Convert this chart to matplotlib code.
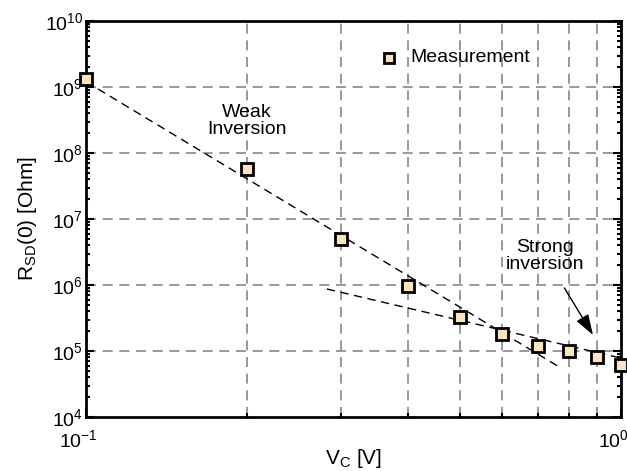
import matplotlib

matplotlib.use("Agg")

import matplotlib.pyplot as plt
from matplotlib.ticker import LogLocator, FixedLocator, NullFormatter
from matplotlib.transforms import ScaledTranslation

plt.rcParams["font.family"] = ["Liberation Sans", "DejaVu Sans"]
plt.rcParams["mathtext.fontset"] = "custom"
plt.rcParams["mathtext.rm"] = "Liberation Sans"
plt.rcParams["mathtext.it"] = "Liberation Sans:italic"

# measured points
vc = [0.1, 0.2, 0.3, 0.4, 0.5, 0.6, 0.7, 0.8, 0.9, 1.0]
rsd = [1.34e9, 5.7e7, 4.9e6, 9.7e5, 3.3e5, 1.8e5, 1.2e5, 1.0e5, 8.2e4, 6.1e4]

# fitted guide lines
weak_x = [0.1, 0.773]
weak_y = [1.2e9, 5.5e4]
strong_x = [0.282, 1.0]
strong_y = [8.7e5, 7.8e4]


def px2x(px):
    return 10 ** ((px - 86) / 535 - 1)


def px2y(py):
    return 10 ** (10 - (py - 21) / 66)


fig = plt.figure(figsize=(6.27, 4.71), dpi=100)
ax = fig.add_axes([86 / 627, 1 - 417 / 471, 535 / 627, 396 / 471])

ax.set_xscale("log")
ax.set_yscale("log")
ax.set_xlim(0.1, 1.0)
ax.set_ylim(1e4, 1e10)

grid_kw = dict(color="#888888", linestyle=(0, (6, 4)), linewidth=1.2, zorder=0)
for x in [0.2, 0.3, 0.4, 0.5, 0.6, 0.7, 0.8, 0.9]:
    ax.axvline(x, **grid_kw)
for y in [1e5, 1e6, 1e7, 1e8, 1e9]:
    ax.axhline(y, **grid_kw)

ax.plot(weak_x, weak_y, color="black", linestyle=(0, (6, 4)), linewidth=1.0, zorder=2)
ax.plot(strong_x, strong_y, color="black", linestyle=(0, (6, 4)), linewidth=1.0, zorder=2)

ax.plot(vc, rsd, linestyle="none", marker="s", markersize=9, markerfacecolor="#fbe3c0",
        markeredgecolor="black", markeredgewidth=2, clip_on=False, zorder=3)

# legend
ax.plot([px2x(389)], [px2y(58)], linestyle="none", marker="s", markersize=7,
        markerfacecolor="#fbe3c0", markeredgecolor="black", markeredgewidth=2, zorder=3)
ax.text(px2x(410), px2y(58), "Measurement", fontsize=14, va="center", ha="left")

ax.text(0.2, px2y(121), "Weak\nInversion", fontsize=14,
        ha="center", va="center", linespacing=1.05)
ax.annotate("Strong\ninversion", xy=(px2x(593), px2y(335)),
            xytext=(px2x(545), px2y(256)),
            fontsize=14, ha="center", va="center", linespacing=1.05,
            arrowprops=dict(arrowstyle="-|>,head_length=0.9,head_width=0.3", color="black",
                            linewidth=1.0, shrinkA=10, shrinkB=0))

ax.xaxis.set_major_locator(FixedLocator([0.1, 1.0]))
ax.xaxis.set_minor_locator(FixedLocator([0.2, 0.3, 0.4, 0.5, 0.6, 0.7, 0.8, 0.9]))
ax.xaxis.set_minor_formatter(NullFormatter())
ax.yaxis.set_major_locator(LogLocator(base=10, numticks=10))
ax.yaxis.set_minor_locator(LogLocator(base=10, subs=range(2, 10), numticks=20))
ax.yaxis.set_minor_formatter(NullFormatter())

ax.tick_params(which="both", direction="in", top=False, right=True, labelsize=14, width=1.5)
ax.tick_params(which="major", length=6)
ax.tick_params(which="minor", length=3)
ax.tick_params(axis="x", which="major", pad=9)
ax.tick_params(axis="y", which="major", pad=2)
for s in ax.spines.values():
    s.set_linewidth(2)

shift = ScaledTranslation(-8 / 100, 0, fig.dpi_scale_trans)
for lbl in ax.get_xticklabels():
    lbl.set_transform(lbl.get_transform() + shift)

ax.set_xlabel(r"V$_\mathregular{C}$ [V]", fontsize=15, labelpad=-3)
ax.set_ylabel(r"R$_\mathregular{SD}$(0) [Ohm]", fontsize=15, labelpad=4)

fig.savefig("out.png", dpi=100)
